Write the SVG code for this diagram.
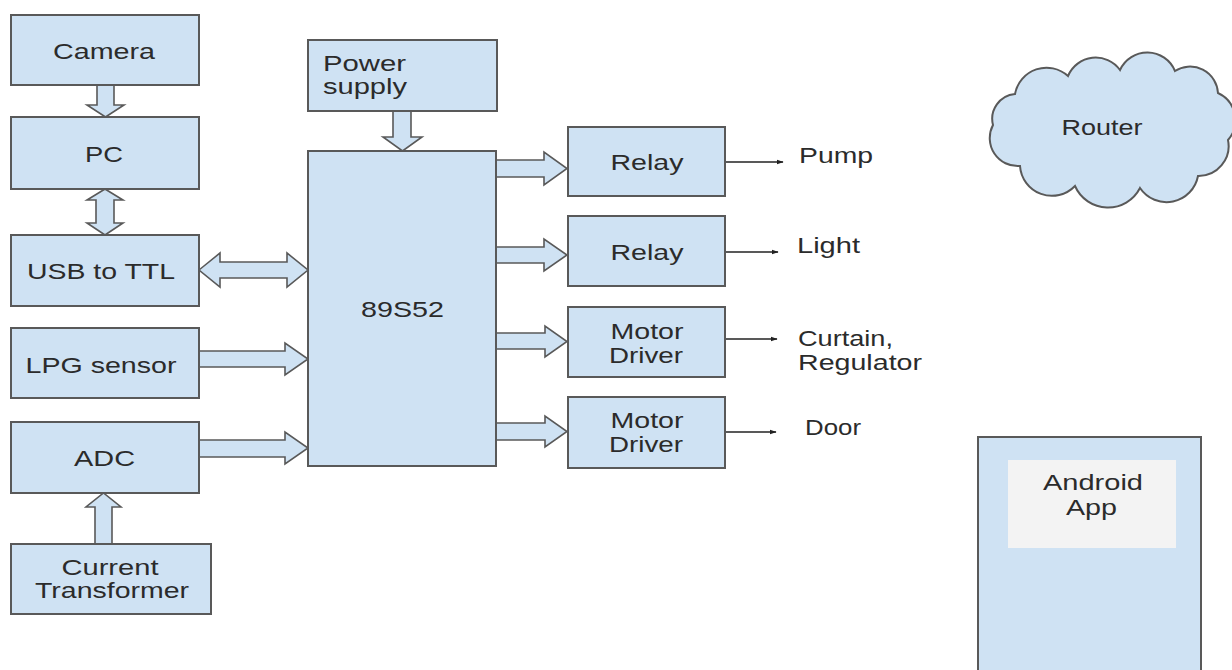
<svg xmlns="http://www.w3.org/2000/svg" width="1232" height="670" viewBox="0 0 1232 670">
<style>
.box{fill:#cfe2f3;stroke:#595959;stroke-width:2}
.blk{fill:#cfe2f3;stroke:#595959;stroke-width:1.6;stroke-linejoin:miter}
.ln{stroke:#222;stroke-width:1.3;fill:none}
text{font-family:"Liberation Sans",Arial,sans-serif;font-size:22px;fill:#2b2b2b}
.c{text-anchor:middle}
</style>
<defs>
<marker id="ah" viewBox="0 0 10 10" refX="9" refY="5" markerWidth="7" markerHeight="7" markerUnits="userSpaceOnUse" orient="auto">
<path d="M0,1.5 L10,5 L0,8.5 z" fill="#222"/>
</marker>
</defs>
<rect width="1232" height="670" fill="#ffffff"/>

<g id="connectors">
<polygon class="blk" points="97,85 114,85 114,105 124,105 105.5,117 87,105 97,105"/>
<polygon class="blk" points="105,189 123,200 114,200 114,223 123,223 105,235 87,223 96,223 96,200 87,200"/>
<polygon class="blk" points="199,270 220,253 220,262 287,262 287,253 308,270 287,287 287,278 220,278 220,287"/>
<polygon class="blk" points="199,351 285,351 285,343 308,359 285,375 285,367 199,367"/>
<polygon class="blk" points="199,440 285,440 285,432 308,448 285,464 285,457 199,457"/>
<polygon class="blk" points="95,544 95,507 86,507 103.5,493 121,507 112,507 112,544"/>
<polygon class="blk" points="393,111 411,111 411,137 422,137 402.5,151 383,137 393,137"/>
<polygon class="blk" points="496,160 544,160 544,152 567,168.5 544,185 544,177 496,177"/>
<polygon class="blk" points="496,247 544,247 544,239 567,255 544,271 544,263 496,263"/>
<polygon class="blk" points="496,333 545,333 545,326 567,341.5 545,357 545,349 496,349"/>
<polygon class="blk" points="496,423 545,423 545,416 567,431.5 545,447 545,440 496,440"/>
<line class="ln" x1="725" y1="162" x2="783" y2="162" marker-end="url(#ah)"/>
<line class="ln" x1="725" y1="252" x2="778" y2="252" marker-end="url(#ah)"/>
<line class="ln" x1="725" y1="339" x2="777" y2="339" marker-end="url(#ah)"/>
<line class="ln" x1="725" y1="432" x2="776" y2="432" marker-end="url(#ah)"/>
</g>

<g id="camera"><rect class="box" x="11" y="15" width="188" height="70"/><text class="c" x="104" y="59" textLength="102" lengthAdjust="spacingAndGlyphs">Camera</text></g>
<g id="pc"><rect class="box" x="11" y="117" width="188" height="72"/><text class="c" x="104" y="162" textLength="38" lengthAdjust="spacingAndGlyphs">PC</text></g>
<g id="usb-ttl"><rect class="box" x="11" y="235" width="188" height="71"/><text class="c" x="101" y="279" textLength="148" lengthAdjust="spacingAndGlyphs">USB to TTL</text></g>
<g id="lpg"><rect class="box" x="11" y="328" width="188" height="70"/><text class="c" x="101" y="373" textLength="151" lengthAdjust="spacingAndGlyphs">LPG sensor</text></g>
<g id="adc"><rect class="box" x="11" y="422" width="188" height="71"/><text class="c" x="104.5" y="466" textLength="61" lengthAdjust="spacingAndGlyphs">ADC</text></g>
<g id="ct"><rect class="box" x="11" y="544" width="200" height="70"/><text class="c" x="110" y="575" textLength="97" lengthAdjust="spacingAndGlyphs">Current</text><text class="c" x="112" y="598" textLength="154" lengthAdjust="spacingAndGlyphs">Transformer</text></g>
<g id="power"><rect class="box" x="308" y="40" width="189" height="71"/><text x="323" y="71" textLength="83" lengthAdjust="spacingAndGlyphs">Power</text><text x="323" y="94" textLength="84" lengthAdjust="spacingAndGlyphs">supply</text></g>
<g id="mcu"><rect class="box" x="308" y="151" width="188" height="315"/><text class="c" x="402.5" y="317" textLength="83" lengthAdjust="spacingAndGlyphs">89S52</text></g>
<g id="relay1"><rect class="box" x="568" y="127" width="157" height="69"/><text class="c" x="647" y="170" textLength="73" lengthAdjust="spacingAndGlyphs">Relay</text></g>
<g id="relay2"><rect class="box" x="568" y="216" width="157" height="70"/><text class="c" x="647" y="260" textLength="73" lengthAdjust="spacingAndGlyphs">Relay</text></g>
<g id="md1"><rect class="box" x="568" y="307" width="157" height="70"/><text class="c" x="647" y="339" textLength="73" lengthAdjust="spacingAndGlyphs">Motor</text><text class="c" x="646" y="363" textLength="74" lengthAdjust="spacingAndGlyphs">Driver</text></g>
<g id="md2"><rect class="box" x="568" y="397" width="157" height="71"/><text class="c" x="647" y="428" textLength="73" lengthAdjust="spacingAndGlyphs">Motor</text><text class="c" x="646" y="452" textLength="74" lengthAdjust="spacingAndGlyphs">Driver</text></g>
<g id="out-pump"><text x="799" y="163" textLength="74" lengthAdjust="spacingAndGlyphs">Pump</text></g>
<g id="out-light"><text x="797" y="253" textLength="63" lengthAdjust="spacingAndGlyphs">Light</text></g>
<g id="out-curtain"><text x="798" y="346" textLength="95" lengthAdjust="spacingAndGlyphs">Curtain,</text><text x="798" y="370" textLength="124" lengthAdjust="spacingAndGlyphs">Regulator</text></g>
<g id="out-door"><text x="805" y="435" textLength="56" lengthAdjust="spacingAndGlyphs">Door</text></g>
<g id="router"><path class="box" d="M993,125 A25,25 0 0 1 1015,94 A32,32 0 0 1 1068,76 A30,30 0 0 1 1120,70 A30,30 0 0 1 1175,71 A28,28 0 0 1 1218,93 A30,30 0 0 1 1228,140 A30,30 0 0 1 1198,176 A32,32 0 0 1 1140,188 A36,36 0 0 1 1075,186 A32,32 0 0 1 1020,166 A28,28 0 0 1 993,125 Z"/><text class="c" x="1102" y="135" textLength="81" lengthAdjust="spacingAndGlyphs">Router</text></g>
<g id="android"><rect class="box" x="978" y="437" width="223" height="250"/><rect x="1008" y="460" width="168" height="88" fill="#f3f3f3"/><text class="c" x="1093" y="490" textLength="100" lengthAdjust="spacingAndGlyphs">Android</text><text class="c" x="1091.5" y="515" textLength="51" lengthAdjust="spacingAndGlyphs">App</text></g>
</svg>
